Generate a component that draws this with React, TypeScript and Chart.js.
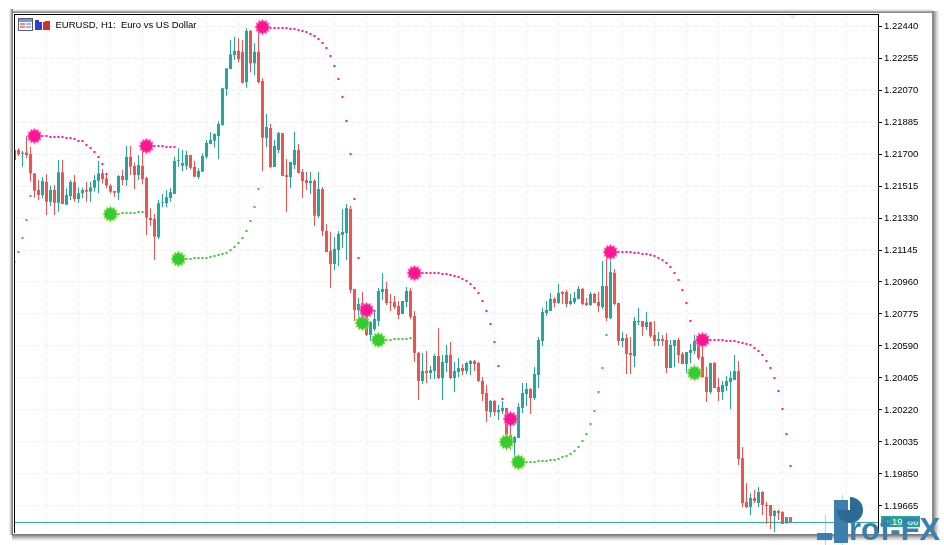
import React, { useEffect, useRef } from "react";
import { Chart, registerables } from "chart.js";

Chart.register(...registerables);

const chartTitle = "EURUSD, H1:  Euro vs US Dollar";
const tickValues = [1.2244, 1.22255, 1.2207, 1.21885, 1.217, 1.21515, 1.2133, 1.21145, 1.2096, 1.20775, 1.2059, 1.20405, 1.2022, 1.20035, 1.1985, 1.19665];
const lastPrice = 1.1957;
const lastPriceLabel = "1.19566";
const watermarkText = "rof-FX";

const opens = [
  1.21665, 1.21723, 1.21702, 1.21708, 1.217, 1.21588, 1.21492, 1.21463, 1.21538, 1.21424,
  1.21492, 1.21418, 1.21594, 1.21407, 1.21457, 1.21538, 1.2144, 1.21473, 1.21492, 1.21482,
  1.21505, 1.21545, 1.21588, 1.21559, 1.21517, 1.21486, 1.21476, 1.21573, 1.21549, 1.21683,
  1.21631, 1.21578, 1.21631, 1.21561, 1.2133, 1.21324, 1.21219, 1.21418, 1.21415, 1.21445,
  1.21469, 1.2166, 1.21632, 1.21632, 1.21694, 1.21625, 1.21567, 1.21598, 1.21684, 1.21758,
  1.21777, 1.21804, 1.21868, 1.22076, 1.22191, 1.22272, 1.22297, 1.22291, 1.22115, 1.22411,
  1.22224, 1.22291, 1.22122, 1.21793, 1.2185, 1.21625, 1.21723, 1.21821, 1.21578, 1.21567,
  1.21636, 1.21723, 1.21596, 1.21549, 1.21532, 1.21544, 1.21341, 1.21497, 1.21255, 1.21139,
  1.21064, 1.21145, 1.21232, 1.21243, 1.21382, 1.2092, 1.20798, 1.20839, 1.20769, 1.20654,
  1.20688, 1.20735, 1.20902, 1.2092, 1.20844, 1.20844, 1.20821, 1.20775, 1.20844, 1.20908,
  1.20763, 1.2055, 1.20388, 1.20445, 1.20434, 1.20445, 1.20532, 1.20405, 1.20492, 1.20538,
  1.20405, 1.2044, 1.20463, 1.20445, 1.20486, 1.20503, 1.20492, 1.20388, 1.20318, 1.20208,
  1.20272, 1.20208, 1.20214, 1.20232, 1.20075, 1.20029, 1.20058, 1.20232, 1.20312, 1.20341,
  1.20289, 1.20422, 1.20619, 1.20781, 1.20792, 1.20862, 1.20839, 1.20902, 1.20902, 1.20833,
  1.20844, 1.20862, 1.2092, 1.20839, 1.20827, 1.20891, 1.20844, 1.20815, 1.20937, 1.20752,
  1.21012, 1.20839, 1.20619, 1.20636, 1.2055, 1.20532, 1.20729, 1.20735, 1.207, 1.20729,
  1.20654, 1.20619, 1.20631, 1.20625, 1.20463, 1.2059, 1.20625, 1.20544, 1.20486, 1.2055,
  1.20561, 1.20602, 1.20527, 1.20411, 1.20324, 1.20492, 1.20353, 1.20324, 1.20359, 1.20382,
  1.20393, 1.20445, 1.19942, 1.19688, 1.19659, 1.19711, 1.19682, 1.19746, 1.19671, 1.19671,
  1.19607, 1.19636, 1.1963, 1.19567, 1.19601,
];
const closes = [
  1.21723, 1.21698, 1.21708, 1.21694, 1.21588, 1.21488, 1.21463, 1.21544, 1.21424, 1.21492,
  1.21418, 1.21594, 1.21411, 1.21463, 1.21538, 1.2144, 1.21473, 1.21492, 1.21482, 1.21507,
  1.21549, 1.21588, 1.21555, 1.21517, 1.21482, 1.21476, 1.21573, 1.21549, 1.21683, 1.21627,
  1.21578, 1.21636, 1.21555, 1.21332, 1.21318, 1.21222, 1.21415, 1.21422, 1.2145, 1.2148,
  1.21659, 1.21664, 1.21648, 1.21694, 1.2162, 1.21569, 1.21602, 1.21688, 1.21764, 1.21781,
  1.21816, 1.21874, 1.2208, 1.22195, 1.22276, 1.22297, 1.22248, 1.22112, 1.22411, 1.22224,
  1.22291, 1.22115, 1.21794, 1.21856, 1.21625, 1.21746, 1.21821, 1.21573, 1.21567, 1.21654,
  1.21723, 1.2159, 1.21544, 1.21532, 1.21544, 1.21343, 1.21497, 1.21253, 1.21133, 1.21064,
  1.21151, 1.21238, 1.21249, 1.21388, 1.20914, 1.20798, 1.20833, 1.20758, 1.20654, 1.20729,
  1.20746, 1.20908, 1.2092, 1.20839, 1.20839, 1.20815, 1.20769, 1.2085, 1.20908, 1.20758,
  1.2055, 1.20388, 1.20445, 1.20434, 1.20451, 1.20532, 1.20405, 1.20498, 1.20538, 1.20405,
  1.20445, 1.20463, 1.20445, 1.20492, 1.20503, 1.20486, 1.20388, 1.20312, 1.20214, 1.20272,
  1.20208, 1.2022, 1.20232, 1.20075, 1.20046, 1.20064, 1.20238, 1.20318, 1.20341, 1.20289,
  1.20428, 1.20625, 1.20787, 1.20798, 1.20862, 1.20839, 1.20896, 1.20891, 1.20833, 1.2085,
  1.20868, 1.2092, 1.20833, 1.20827, 1.20891, 1.20839, 1.20821, 1.20937, 1.20752, 1.21018,
  1.20833, 1.20619, 1.20636, 1.20544, 1.20538, 1.20735, 1.20735, 1.207, 1.20729, 1.20648,
  1.20619, 1.20631, 1.20619, 1.20463, 1.20596, 1.20625, 1.20538, 1.20486, 1.20555, 1.20567,
  1.20619, 1.20521, 1.20411, 1.20324, 1.20492, 1.20347, 1.20324, 1.20365, 1.20388, 1.20405,
  1.20445, 1.19937, 1.19682, 1.19659, 1.19711, 1.19694, 1.19746, 1.19671, 1.19665, 1.19607,
  1.19636, 1.19625, 1.19561, 1.19601, 1.19572,
];
const highs = [
  1.21723, 1.21733, 1.21717, 1.21804, 1.21742, 1.2159, 1.21549, 1.21565, 1.21583, 1.21517,
  1.21521, 1.21665, 1.21665, 1.21502, 1.21549, 1.21578, 1.21507, 1.21505, 1.21538, 1.2154,
  1.21578, 1.21659, 1.21613, 1.21588, 1.21525, 1.21486, 1.21578, 1.21607, 1.21746, 1.21746,
  1.21649, 1.21694, 1.21742, 1.21569, 1.21386, 1.21353, 1.21434, 1.21469, 1.21492, 1.21503,
  1.21684, 1.21733, 1.21723, 1.21719, 1.21694, 1.21661, 1.21617, 1.21704, 1.21781, 1.21826,
  1.2182, 1.21891, 1.2208, 1.22195, 1.22359, 1.22378, 1.22369, 1.22359, 1.22427, 1.22417,
  1.2234, 1.22434, 1.22138, 1.21931, 1.21873, 1.21781, 1.21827, 1.21821, 1.21671, 1.21654,
  1.21827, 1.21758, 1.21613, 1.21596, 1.21596, 1.21555, 1.21596, 1.21509, 1.21295, 1.21249,
  1.2122, 1.21255, 1.21382, 1.21411, 1.214, 1.2092, 1.20868, 1.20902, 1.20827, 1.20735,
  1.20798, 1.20925, 1.21012, 1.2096, 1.20891, 1.20879, 1.2085, 1.2085, 1.20931, 1.20925,
  1.20792, 1.20555, 1.2055, 1.20561, 1.20474, 1.20544, 1.20694, 1.20538, 1.20596, 1.20613,
  1.20498, 1.20521, 1.20486, 1.20498, 1.20509, 1.20509, 1.20498, 1.20411, 1.20364, 1.20278,
  1.20278, 1.20249, 1.20272, 1.20232, 1.20139, 1.20069, 1.20261, 1.20376, 1.20376, 1.20347,
  1.20469, 1.20642, 1.2081, 1.2085, 1.20896, 1.20873, 1.20948, 1.20908, 1.20914, 1.20891,
  1.20902, 1.20937, 1.20925, 1.20868, 1.20902, 1.20896, 1.20902, 1.21081, 1.21133, 1.21127,
  1.21035, 1.20839, 1.20671, 1.20659, 1.20642, 1.20758, 1.2081, 1.20735, 1.20787, 1.20729,
  1.20735, 1.20671, 1.20654, 1.20665, 1.20625, 1.20625, 1.20636, 1.20555, 1.20555, 1.20602,
  1.20654, 1.20665, 1.20625, 1.20469, 1.20492, 1.20498, 1.20405, 1.20388, 1.20417, 1.20445,
  1.20538, 1.20503, 1.20006, 1.19798, 1.1974, 1.19757, 1.19775, 1.19752, 1.19688, 1.19671,
  1.19642, 1.19642, 1.19636, 1.19601, 1.19601,
];
const lows = [
  1.21665, 1.21688, 1.21627, 1.21675, 1.21541, 1.21447, 1.21434, 1.21444, 1.21347, 1.214,
  1.21347, 1.21366, 1.21411, 1.21405, 1.21434, 1.21424, 1.21418, 1.21444, 1.21424, 1.21424,
  1.21482, 1.21473, 1.2153, 1.21502, 1.21473, 1.21453, 1.21434, 1.21521, 1.21515, 1.21578,
  1.21498, 1.21549, 1.21525, 1.21232, 1.21284, 1.21087, 1.21209, 1.21392, 1.21392, 1.21424,
  1.21469, 1.21627, 1.21602, 1.21607, 1.21611, 1.21565, 1.21555, 1.21596, 1.21673, 1.21756,
  1.21737, 1.21671, 1.21864, 1.22037, 1.22191, 1.22243, 1.22231, 1.22109, 1.22083, 1.22173,
  1.22157, 1.22109, 1.21602, 1.2174, 1.21617, 1.21625, 1.21706, 1.21573, 1.21365, 1.21503,
  1.21613, 1.2159, 1.21446, 1.21492, 1.21469, 1.21284, 1.2133, 1.21226, 1.21133, 1.20925,
  1.21029, 1.21052, 1.21157, 1.21087, 1.20897, 1.20735, 1.20752, 1.20712, 1.20648, 1.20619,
  1.20677, 1.20706, 1.20856, 1.20827, 1.20792, 1.20804, 1.20746, 1.20775, 1.20815, 1.20746,
  1.20498, 1.20278, 1.2037, 1.20376, 1.20399, 1.20399, 1.20399, 1.20278, 1.2044, 1.20399,
  1.20324, 1.20411, 1.20422, 1.20428, 1.20422, 1.20445, 1.20382, 1.20272, 1.2015, 1.2018,
  1.20185, 1.20162, 1.20197, 1.19989, 1.19989, 1.19948, 1.20058, 1.20203, 1.20243, 1.20197,
  1.20278, 1.20347, 1.2059, 1.20763, 1.20792, 1.20815, 1.20833, 1.20833, 1.20815, 1.20827,
  1.20833, 1.20862, 1.20827, 1.20821, 1.20821, 1.20839, 1.20787, 1.20804, 1.20735, 1.20746,
  1.20827, 1.20596, 1.20584, 1.20428, 1.20428, 1.20469, 1.20712, 1.20648, 1.20683, 1.20636,
  1.2059, 1.2059, 1.2059, 1.20434, 1.20463, 1.20469, 1.20492, 1.20486, 1.20434, 1.20492,
  1.20544, 1.20509, 1.20405, 1.20266, 1.20312, 1.20347, 1.20272, 1.20278, 1.2033, 1.20226,
  1.20393, 1.19902, 1.19659, 1.19653, 1.19613, 1.19682, 1.19659, 1.19613, 1.19561, 1.19532,
  1.19515, 1.19584, 1.19561, 1.19561, 1.19572,
];

const pinkSignalIndex = [5, 33, 62, 88, 100, 124, 149, 172];
const pinkSignalPrice = [1.21804, 1.21746, 1.22434, 1.20798, 1.21012, 1.20168, 1.21133, 1.20625];
const greenSignalIndex = [24, 41, 87, 91, 123, 126, 170];
const greenSignalPrice = [1.21353, 1.21093, 1.20723, 1.20625, 1.20035, 1.19919, 1.20434];

const pinkTrailStarts = [7, 34, 64, 89, 102, 151, 174];
const pinkTrailA = [1.21806, 1.21804, 1.218, 1.218, 1.218, 1.218, 1.21794, 1.21791, 1.21785, 1.21777, 1.21773, 1.21754, 1.21735, 1.21712, 1.21683, 1.21642, 1.21584];
const pinkTrailB = [1.21746, 1.21748, 1.21748, 1.21748, 1.2174, 1.2174, 1.2174];
const pinkTrailC = [1.2243, 1.2243, 1.2243, 1.2243, 1.2243, 1.22424, 1.22424, 1.22419, 1.22413, 1.22407, 1.22395, 1.22384, 1.22367, 1.22342, 1.22313, 1.22268, 1.22209, 1.22134, 1.2203, 1.21891, 1.217, 1.2144, 1.21099];
const pinkTrailD = [1.20798, 1.20792];
const pinkTrailE = [1.21014, 1.21014, 1.21014, 1.21014, 1.21014, 1.21006, 1.21006, 1.21, 1.20995, 1.20989, 1.20977, 1.20966, 1.20948, 1.20925, 1.20896, 1.2085, 1.20792, 1.20717, 1.20613, 1.20474, 1.20284];
const pinkTrailF = [1.21133, 1.21133, 1.21133, 1.21133, 1.21127, 1.21127, 1.21122, 1.21122, 1.21116, 1.2111, 1.21099, 1.21087, 1.2107, 1.21047, 1.21012, 1.20972, 1.20914, 1.20839, 1.20735];
const pinkTrailG = [1.20625, 1.20625, 1.20625, 1.20625, 1.20619, 1.20619, 1.20619, 1.20613, 1.20607, 1.20602, 1.20596, 1.20578, 1.20561, 1.20538, 1.20503, 1.20463, 1.20405, 1.2033, 1.20226, 1.20081, 1.19896];

const greenTrailStarts = [0, 26, 43, 93, 128];
const greenTrailA = [1.21076, 1.21133, 1.21214, 1.21318, 1.21457];
const greenTrailB = [1.21353, 1.21359, 1.21359, 1.21359, 1.21359, 1.21365, 1.21365];
const greenTrailC = [1.21095, 1.21095, 1.21099, 1.21099, 1.21099, 1.21099, 1.21105, 1.2111, 1.21116, 1.21122, 1.21127, 1.21145, 1.21162, 1.21185, 1.21214, 1.21255, 1.21313, 1.21394, 1.21498];
const greenTrailD = [1.20625, 1.20625, 1.20631, 1.20631, 1.20631, 1.20631, 1.20636];
const greenTrailE = [1.19919, 1.19919, 1.19919, 1.19925, 1.19925, 1.19925, 1.19931, 1.19931, 1.19937, 1.19948, 1.19954, 1.19966, 1.19983, 1.20006, 1.20041, 1.20081, 1.20139, 1.20214, 1.20324, 1.20463, 1.20654];

const UP = "#26a69a";
const DOWN = "#ef5350";
const PINK = "#ff1493";
const LIME = "#32cd32";
const GRID = "#efefef";
const FONT = "'Liberation Sans', Arial, sans-serif";

function burstSprite(color: string, halo: string): HTMLCanvasElement {
  const c = document.createElement("canvas");
  c.width = 17;
  c.height = 17;
  const g = c.getContext("2d")!;
  const spikes = 12;
  const draw = (outer: number, inner: number, fill: string) => {
    g.beginPath();
    for (let i = 0; i < spikes * 2; i++) {
      const r = i % 2 === 0 ? outer : inner;
      const a = (i / (spikes * 2)) * Math.PI * 2;
      const px = 8.5 + r * Math.cos(a);
      const py = 8.5 + r * Math.sin(a);
      if (i === 0) g.moveTo(px, py);
      else g.lineTo(px, py);
    }
    g.closePath();
    g.fillStyle = fill;
    g.fill();
  };
  draw(8.4, 5.9, halo);
  draw(7.8, 5.4, color);
  return c;
}

function dotSprite(core: string, side: string): HTMLCanvasElement {
  const c = document.createElement("canvas");
  c.width = 3;
  c.height = 2;
  const g = c.getContext("2d")!;
  g.fillStyle = side;
  g.fillRect(0, 0, 3, 2);
  g.fillStyle = core;
  g.fillRect(1, 0, 1, 2);
  return c;
}

function rows(g: CanvasRenderingContext2D, x: number, w: number, y: number, colors: string[]) {
  colors.forEach((col, i) => {
    g.fillStyle = col;
    g.fillRect(x, y + i, w, 1);
  });
}
function cols(g: CanvasRenderingContext2D, x: number, y: number, h: number, colors: string[]) {
  colors.forEach((col, i) => {
    g.fillStyle = col;
    g.fillRect(x + i, y, 1, h);
  });
}

const framePlugin = {
  id: "terminalFrame",
  beforeDraw(chart: any) {
    const g: CanvasRenderingContext2D = chart.ctx;
    const { bottom } = chart.chartArea;
    g.save();
    g.fillStyle = "#ffffff";
    g.fillRect(0, 0, chart.width, chart.height);
    rows(g, 9, 924, 9, ["#eeeeee", "#dcdcdc", "#a8a8a8", "#8c8c8c"]);
    cols(g, 9, 9, 526, ["#eeeeee", "#d0d0d0", "#a0a0a0", "#808080"]);
    cols(g, 932, 11, 523, ["#8a8a8a", "#8a8a8a", "#a0a0a0", "#b8b8b8", "#cfcfcf", "#e2e2e2", "#f0f0f0", "#f8f8f8"]);
    rows(g, 12, 925, bottom + 1, ["#7c7c7c", "#8c8c8c", "#a4a4a4", "#bcbcbc", "#d2d2d2", "#e4e4e4", "#f2f2f2"]);
    g.fillStyle = "#ffffff";
    g.fillRect(13, 13, 919, bottom - 12);
    g.fillStyle = "#efe9f0";
    g.beginPath();
    g.moveTo(788, 15);
    g.lineTo(797, 15);
    g.lineTo(792.5, 19.5);
    g.closePath();
    g.fill();
    g.restore();
  },
  afterDraw(chart: any) {
    const g: CanvasRenderingContext2D = chart.ctx;
    const { left, right, top, bottom } = chart.chartArea;
    const yScale = chart.scales.y;
    g.save();
    g.fillStyle = "#000000";
    g.fillRect(left - 1, top - 1, right - left + 2, 1);
    g.fillRect(left - 1, top - 1, 1, bottom - top + 1);
    g.fillRect(right, top - 1, 1, bottom - top + 1);

    g.fillStyle = "#5a5a6a";
    g.fillRect(18, 18, 15, 13);
    g.fillStyle = "#ffffff";
    g.fillRect(19, 19, 13, 11);
    g.fillStyle = "#7d8fe6";
    g.fillRect(19, 19, 13, 3);
    g.fillStyle = "#f08a80";
    g.fillRect(20, 23, 5, 2);
    g.fillRect(20, 26, 5, 2);
    g.fillStyle = "#9db4ee";
    g.fillRect(26, 23, 5, 2);
    g.fillRect(26, 26, 5, 2);
    g.fillStyle = "#2f3fd0";
    g.fillRect(35, 20, 7, 10);
    g.fillStyle = "#c8352c";
    g.fillRect(43, 21, 7, 9);
    g.fillStyle = "#ffffff";
    g.fillRect(39, 19, 6, 3);
    g.fillStyle = "#000000";
    g.font = "9.5px " + FONT;
    g.textAlign = "left";
    g.textBaseline = "alphabetic";
    g.fillText(chartTitle, 55.5, 28);

    const py = yScale.getPixelForValue(lastPrice);
    g.fillStyle = UP;
    g.fillRect(right + 3, Math.round(py) - 6, 39, 11);
    g.fillStyle = "#ffffff";
    g.font = "9.5px " + FONT;
    g.textBaseline = "middle";
    g.fillText(lastPriceLabel, right + 6, py);

    g.fillStyle = "rgba(120,165,200,0.55)";
    g.fillRect(825, 515, 1, 30);
    g.fillRect(842, 495, 1, 50);
    g.fillStyle = "#3c7fae";
    g.fillRect(817, 533, 15, 7);
    g.fillRect(834, 500, 14, 43);
    g.fillStyle = "#2d6a96";
    g.beginPath();
    g.moveTo(850, 510);
    g.arc(850, 510, 13, -Math.PI / 2, Math.PI);
    g.closePath();
    g.fill();
    g.fillStyle = "#3c7fae";
    g.font = "bold 31px " + FONT;
    g.textBaseline = "alphabetic";
    g.fillText(watermarkText, 849, 540);
    g.restore();
  },
};

export default function App() {
  const ref = useRef<HTMLCanvasElement | null>(null);

  useEffect(() => {
    if (!ref.current) return;
    const colorOf = (i: number) => (closes[i] >= opens[i] ? UP : DOWN);
    const wicks = opens.map((_, i) => ({ x: i, y: [lows[i], highs[i]] }));
    const bodies = opens.map((_, i) => ({
      x: i,
      y: [Math.min(opens[i], closes[i]), Math.max(opens[i], closes[i])],
    }));
    const barColors = opens.map((_, i) => colorOf(i));
    const trail = (starts: number[], lists: number[][]) =>
      lists.flatMap((list, j) => list.map((y, n) => ({ x: starts[j] + n, y })));
    const xMin = 0.125;
    const xMax = 215.875;

    const pinkDots = trail(pinkTrailStarts, [pinkTrailA, pinkTrailB, pinkTrailC, pinkTrailD, pinkTrailE, pinkTrailF, pinkTrailG]);
    const greenDots = trail(greenTrailStarts, [greenTrailA, greenTrailB, greenTrailC, greenTrailD, greenTrailE]);

    const chart = new Chart(ref.current, {
      type: "bar",
      data: {
        datasets: [
          {
            type: "line",
            data: [{ x: xMin, y: lastPrice }, { x: xMax, y: lastPrice }],
            borderColor: UP,
            borderWidth: 1,
            pointRadius: 0,
            order: 5,
          },
          {
            data: wicks,
            backgroundColor: barColors,
            barThickness: 1,
            grouped: false,
            inflateAmount: 0,
            order: 4,
          },
          {
            data: bodies,
            backgroundColor: barColors,
            barThickness: 3,
            grouped: false,
            inflateAmount: 0,
            order: 3,
          },
          {
            type: "scatter",
            data: pinkDots,
            pointStyle: dotSprite(PINK, "#ff8ac8"),
            order: 2,
          },
          {
            type: "scatter",
            data: greenDots,
            pointStyle: dotSprite(LIME, "#8fe88f"),
            order: 2,
          },
          {
            type: "scatter",
            data: greenSignalIndex.map((x, i) => ({ x, y: greenSignalPrice[i] })),
            pointStyle: burstSprite(LIME, "#d8f060"),
            order: 1,
          },
          {
            type: "scatter",
            data: pinkSignalIndex.map((x, i) => ({ x, y: pinkSignalPrice[i] })),
            pointStyle: burstSprite(PINK, "#ffa8d8"),
            order: 0,
          },
        ] as any,
      },
      options: {
        responsive: false,
        animation: false,
        devicePixelRatio: 1,
        layout: { padding: { left: 15, top: 15, bottom: 12, right: 0 } },
        plugins: { legend: { display: false }, tooltip: { enabled: false } },
        scales: {
          x: {
            type: "linear",
            offset: false,
            min: xMin,
            max: xMax,
            afterBuildTicks: (s: any) => {
              const t = [];
              for (let v = 8; v < xMax; v += 8) t.push({ value: v });
              s.ticks = t;
            },
            afterFit: (s: any) => {
              s.height = 0;
            },
            grid: { display: true, offset: false, color: GRID, lineWidth: 1, drawTicks: false },
            border: { display: false, dash: [4, 3] },
            ticks: { display: false },
          },
          y: {
            type: "linear",
            position: "right",
            min: 1.195089,
            max: 1.225036,
            afterBuildTicks: (s: any) => {
              s.ticks = tickValues.map((value) => ({ value }));
            },
            afterFit: (s: any) => {
              s.width = 66;
            },
            grid: { color: GRID, lineWidth: 1, drawTicks: true, tickColor: "#000000", tickLength: 4, tickBorderDash: [] },
            border: { display: false, dash: [4, 3] },
            ticks: {
              color: "#000000",
              padding: 2,
              autoSkip: false,
              maxRotation: 0,
              font: { family: FONT, size: 9.5 },
              callback: (v: any) => Number(v).toFixed(5),
            },
          },
        },
      } as any,
      plugins: [framePlugin],
    });
    return () => chart.destroy();
  }, []);

  return (
    <canvas
      ref={ref}
      width={944}
      height={545}
      style={{ position: "absolute", left: 0, top: 0, width: 944, height: 545, display: "block" }}
    />
  );
}
